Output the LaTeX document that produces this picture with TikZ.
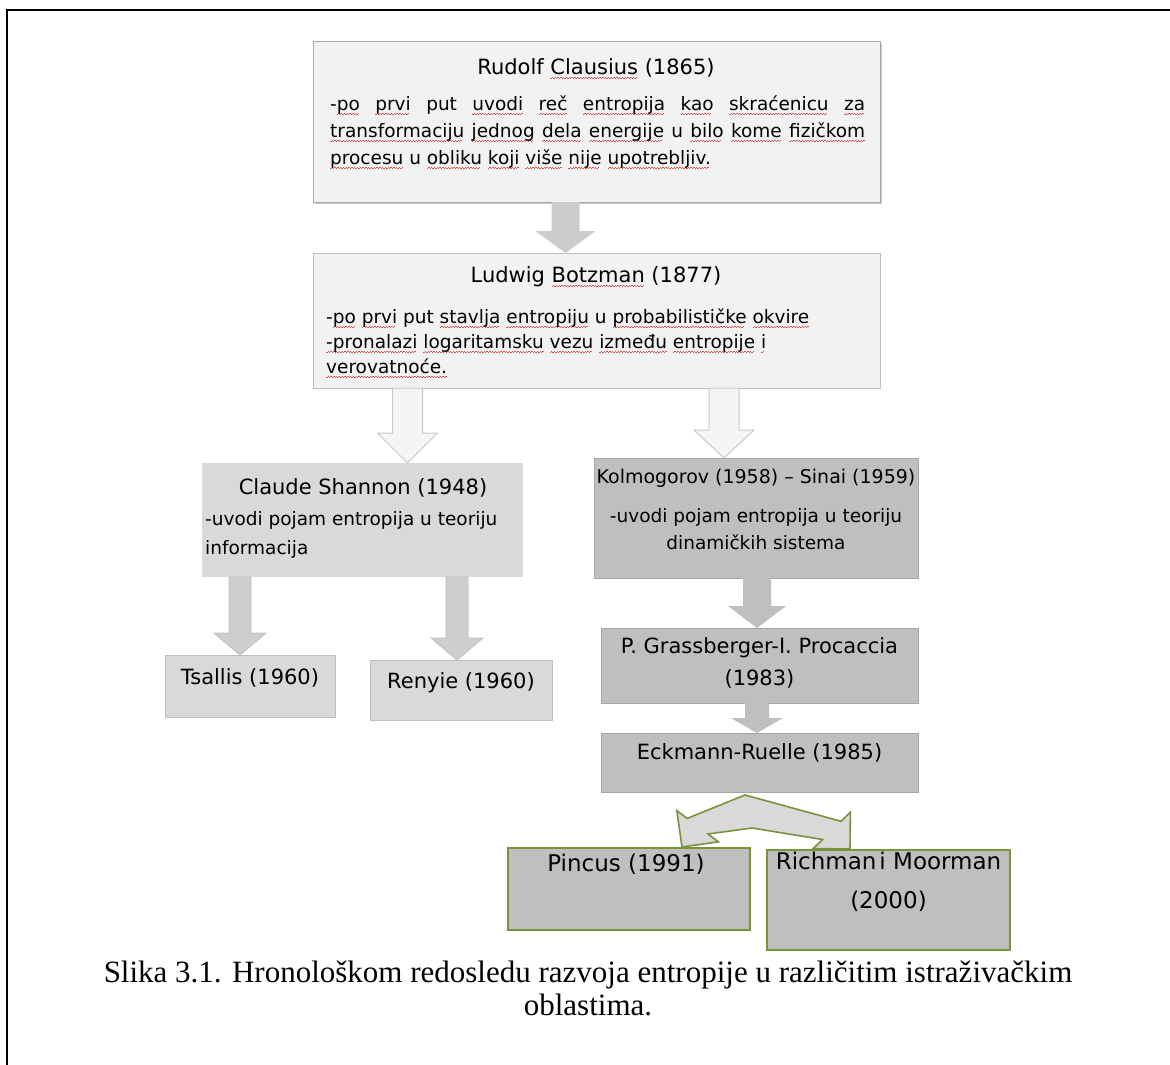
\documentclass[tikz,border=0pt]{standalone}
\usepackage{fontspec}
\usetikzlibrary{calc,shadows}
\newfontfamily\boxfont{DejaVu Sans}
\newfontfamily\capfont{Liberation Serif}
\definecolor{clfill}{HTML}{F2F2F2}
\definecolor{clline}{HTML}{A6A6A6}
\definecolor{bzline}{HTML}{BFBFBF}
\definecolor{lgray}{HTML}{D9D9D9}
\definecolor{mgray}{HTML}{BFBFBF}
\definecolor{mline}{HTML}{A6A6A6}
\definecolor{olivegr}{HTML}{77933C}
\definecolor{spell}{HTML}{E05050}
\definecolor{arrowlight}{HTML}{F5F5F5}
\definecolor{arrowlightline}{HTML}{C8C8C8}
\definecolor{arrowmid}{HTML}{CCCCCC}
\newsavebox\sqbox
\newcommand\sq[1]{\sbox\sqbox{#1}\rlap{\textcolor{spell}{\leaders\hbox{\rule[-5.2pt]{1.4pt}{0.9pt}\rule[-4.2pt]{1.4pt}{0.9pt}}\hskip\wd\sqbox}}\usebox\sqbox}
\newcommand\blkarrow[6]{%
  \path[#1] let \p1=#2, \p2=#3 in
    (\x2-#4,\y1) -- (\x2+#4,\y1) -- (\x2+#4,\y2+#6) -- (\x2+#5,\y2+#6) --
    (\x2,\y2) -- (\x2-#5,\y2+#6) -- (\x2-#4,\y2+#6) -- cycle;}
\begin{document}
\begin{tikzpicture}[x=1pt,y=-1pt,
  box/.style={rectangle, inner sep=0pt, outer sep=0pt},
  clbox/.style={box, fill=clfill, draw=clline, line width=1pt,
     drop shadow={shadow xshift=2pt, shadow yshift=-2pt, fill=black!40}},
  bzbox/.style={box, fill=clfill, draw=bzline, line width=1pt},
  shbox/.style={box, fill=lgray},
  tsbox/.style={box, fill=lgray, draw=bzline, line width=1pt},
  kobox/.style={box, fill=mgray, draw=mline, line width=1pt},
  pibox/.style={box, fill=mgray, draw=olivegr, line width=2pt},
  txt/.style={inner sep=0pt, font=\boxfont\fontsize{18.5}{22}\selectfont},
  ttl/.style={inner sep=0pt, font=\boxfont\fontsize{21}{25}\selectfont},
  kttl/.style={inner sep=0pt, font=\boxfont\fontsize{19}{23}\selectfont},
  bttl/.style={inner sep=0pt, font=\boxfont\fontsize{23}{27}\selectfont},
  capst/.style={inner sep=0pt, font=\capfont\fontsize{31}{35}\selectfont},
  arrA/.style={fill=arrowmid},
  arrB/.style={fill=arrowlight, draw=arrowlightline, line width=1pt},
  arrC/.style={fill=lgray!95!black, draw=bzline, line width=0.8pt},
  arrD/.style={fill=mgray},
  bentst/.style={fill=lgray, draw=olivegr, line width=1.6pt, line join=miter}
]
\useasboundingbox (0,0) rectangle (1170,1065);
\fill[white] (0,0) rectangle (1170,1065);
\draw[line width=2pt] (7,1066) -- (7,10) -- (1171,10);

% boxes
\node[clbox, minimum width=567pt, minimum height=160pt] (cl) at (596.5,122) {};
\node[bzbox, minimum width=567pt, minimum height=135pt] (bz) at (596.5,320.5) {};
\node[shbox, minimum width=321pt, minimum height=114pt] (sh) at (362.5,520) {};
\node[kobox, minimum width=324pt, minimum height=120pt] (ko) at (756,518) {};
\node[tsbox, minimum width=170pt, minimum height=62pt] (ts) at (250,686) {};
\node[tsbox, minimum width=182pt, minimum height=60pt] (re) at (461,690) {};
\node[kobox, minimum width=317pt, minimum height=75pt] (gr) at (759.5,665.5) {};
\node[kobox, minimum width=317pt, minimum height=59pt] (ec) at (759.5,762.5) {};
\node[pibox, minimum width=242pt, minimum height=82pt] (pi) at (629,889) {};
\node[pibox, minimum width=243pt, minimum height=100pt] (ri) at (888.5,900) {};

% texts
\node[ttl, anchor=mid] (clT) at (596,72) {Rudolf \sq{Clausius} (1865)};
\node[txt, anchor=mid west] (cl1) at (330,108) {\makebox[535pt][s]{-\sq{po} \sq{prvi} put \sq{uvodi} \sq{reč} \sq{entropija} \sq{kao} \sq{skraćenicu} \sq{za}}};
\node[txt, anchor=mid west] (cl2) at (330,135) {\makebox[535pt][s]{\sq{transformaciju} \sq{jednog} \sq{dela} \sq{energije} u \sq{bilo} \sq{kome} \sq{fizičkom}}};
\node[txt, anchor=mid west] (cl3) at (330,162) {\sq{procesu} u \sq{obliku} \sq{koji} \sq{više} \sq{nije} \sq{upotrebljiv.}};

\node[ttl, anchor=mid] (bzT) at (596,280) {Ludwig \sq{Botzman} (1877)};
\node[txt, anchor=mid west] (bz1) at (326,321) {-\sq{po} \sq{prvi} put \sq{stavlja} \sq{entropiju} u \sq{probabilističke} \sq{okvire}};
\node[txt, anchor=mid west] (bz2) at (326,346) {\sq{-pronalazi} \sq{logaritamsku} \sq{vezu} \sq{između} \sq{entropije} \sq{i}};
\node[txt, anchor=mid west] (bz3) at (326,371) {\sq{verovatnoće.}};

\node[ttl, anchor=mid] (shT) at (363,492) {Claude Shannon (1948)};
\node[txt, anchor=mid west] (sh1) at (205,523) {-uvodi pojam entropija u teoriju};
\node[txt, anchor=mid west] (sh2) at (205,552) {informacija};

\node[kttl, anchor=mid] (koT) at (756,481) {Kolmogorov (1958) – Sinai (1959)};
\node[txt, anchor=mid] (ko1) at (756,520) {-uvodi pojam entropija u teoriju};
\node[txt, anchor=mid] (ko2) at (756,547) {dinamičkih sistema};

\node[ttl, anchor=mid] (tsT) at (250,682) {Tsallis (1960)};
\node[ttl, anchor=mid] (reT) at (461,686) {Renyie (1960)};
\node[ttl, anchor=mid] (gr1) at (759.5,651) {P. Grassberger-I. Procaccia};
\node[ttl, anchor=mid] (gr2) at (759.5,683) {(1983)};
\node[ttl, anchor=mid] (ecT) at (759.5,757) {Eckmann-Ruelle (1985)};
\node[bttl, anchor=mid] (piT) at (626,869) {Pincus (1991)};
\node[bttl, anchor=mid] (ri1) at (888.5,867) {Richman\kern3pt i Moorman};
\node[bttl, anchor=mid] (ri2) at (888.5,906) {(2000)};

% straight block arrows
\blkarrow{arrA}{($(cl.south)+(-31,0)$)}{($(bz.north)+(-31,0)$)}{14pt}{30pt}{22pt}
\blkarrow{arrB}{($(bz.south)+(-189,0)$)}{($(sh.north)+(45,0)$)}{15pt}{30pt}{30pt}
\blkarrow{arrB}{($(bz.south)+(127,0)$)}{($(ko.north)+(-32,0)$)}{15pt}{30pt}{28pt}
\blkarrow{arrC}{($(sh.south)+(-122,0)$)}{($(ts.north)+(-10,0)$)}{11pt}{26pt}{22pt}
\blkarrow{arrC}{($(sh.south)+(95,0)$)}{($(re.north)+(-4,0)$)}{11pt}{26pt}{22pt}
\blkarrow{arrD}{($(ko.south)+(1,0)$)}{($(gr.north)+(-2.5,0)$)}{14pt}{29pt}{22pt}
\blkarrow{arrD}{($(gr.south)+(-2.5,0)$)}{($(ec.north)+(-2.5,0)$)}{12pt}{26pt}{15pt}

% bent double arrow from Eckmann-Ruelle to Pincus and Richman
\coordinate (bO)  at ($(ec.south)+(-14.5,3)$);   % outer apex
\coordinate (bI)  at ($(ec.south)+(-7.5,36)$);   % inner apex
\coordinate (lo1) at (687.2,818.4);
\coordinate (lw1) at (676.8,810.6);
\coordinate (bL)  at ($(pi.north)+(53,-1)$);     % left tip
\coordinate (lw2) at (718.4,841.8);
\coordinate (li1) at (708,834);
\coordinate (ri1c) at (822.5,839.5);
\coordinate (rw2) at (813.2,848.6);
\coordinate (bR)  at ($(ri.north)+(-38.5,-1)$);  % right tip
\coordinate (rw1) at (850.4,812.2);
\coordinate (ro1) at (841.1,821.3);
\path[bentst] (bO) -- (lo1) -- (lw1) -- (bL) -- (lw2) -- (li1) -- (bI) -- (ri1c) -- (rw2) -- (bR) -- (rw1) -- (ro1) -- cycle;

% caption
\node[capst, anchor=mid] (cap1) at (588,980) {Slika 3.1. Hronološkom redosledu razvoja entropije u različitim istraživačkim};
\node[capst, anchor=mid] (cap2) at (588,1013) {oblastima.};
\end{tikzpicture}
\end{document}
